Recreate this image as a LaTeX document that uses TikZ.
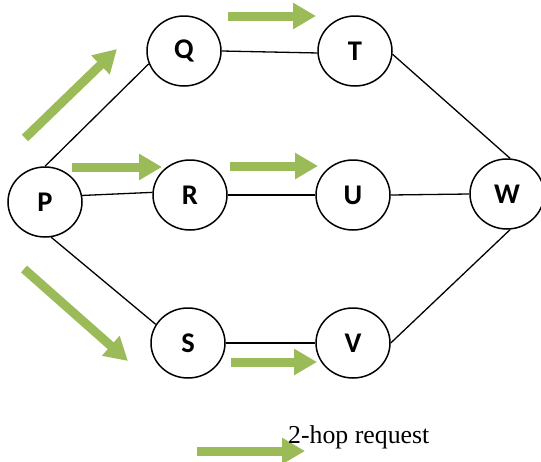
\documentclass[tikz,border=0pt]{standalone}
\usepackage{fontspec}
\setmainfont{Liberation Serif}
\newfontfamily\labelfont{Carlito}
\usetikzlibrary{shapes.geometric,arrows.meta}
\definecolor{hopgreen}{HTML}{9BBB59}
\begin{document}
\begin{tikzpicture}[x=1pt,y=-1pt,
  router/.style={ellipse,draw=black,line width=1.5pt,minimum width=74pt,minimum height=70pt,inner sep=0pt,
    font=\labelfont\bfseries\fontsize{28.5}{30}\selectfont},
  link/.style={draw=black,line width=1.3pt},
  hop/.style={draw=hopgreen,line width=9pt,-{Triangle[length=23pt,width=25pt]}}]
\useasboundingbox (0,0) rectangle (541,461);

% routers
\node[router] (P) at (45,202) {P};
\node[router] (Q) at (184,51) {Q};
\node[router] (R) at (190,195) {R};
\node[router] (S) at (188,343) {S};
\node[router] (T) at (355,51) {T};
\node[router] (U) at (353,195) {U};
\node[router] (V) at (353,343) {V};
\node[router] (W) at (507,194) {W};

% links
\draw[link] (P.north) -- (Q.200);
\draw[link] (P.10) -- (R.176);
\draw[link] (Q.east) -- (T.183);
\draw[link] (T.-5) -- (W.85);
\draw[link] (R.east) -- (U.west);
\draw[link] (U.east) -- (W.west);
\draw[link] (P.-80) -- (S.150);
\draw[link] (S.east) -- (V.west);
\draw[link] (V.east) -- (W.-85);

% request propagation arrows
\coordinate (a1s) at (25,138);  \coordinate (a1e) at (117,49);
\coordinate (a2s) at (72,167);  \coordinate (a2e) at (162,167);
\coordinate (a3s) at (228,16);  \coordinate (a3e) at (316,16);
\coordinate (a4s) at (230,166); \coordinate (a4e) at (318,166);
\coordinate (a5s) at (24,269);  \coordinate (a5e) at (128,361);
\coordinate (a6s) at (231,362); \coordinate (a6e) at (317,362);
\draw[hop] (a1s) -- (a1e);
\draw[hop] (a2s) -- (a2e);
\draw[hop] (a3s) -- (a3e);
\draw[hop] (a4s) -- (a4e);
\draw[hop] (a5s) -- (a5e);
\draw[hop] (a6s) -- (a6e);

% legend
\coordinate (ls) at (197,451); \coordinate (le) at (305,451);
\draw[hop] (ls) -- (le);
\node[anchor=base west,inner sep=0pt,font=\fontsize{25.8}{30}\selectfont] (legend) at (288,443) {2-hop request};
\end{tikzpicture}
\end{document}
